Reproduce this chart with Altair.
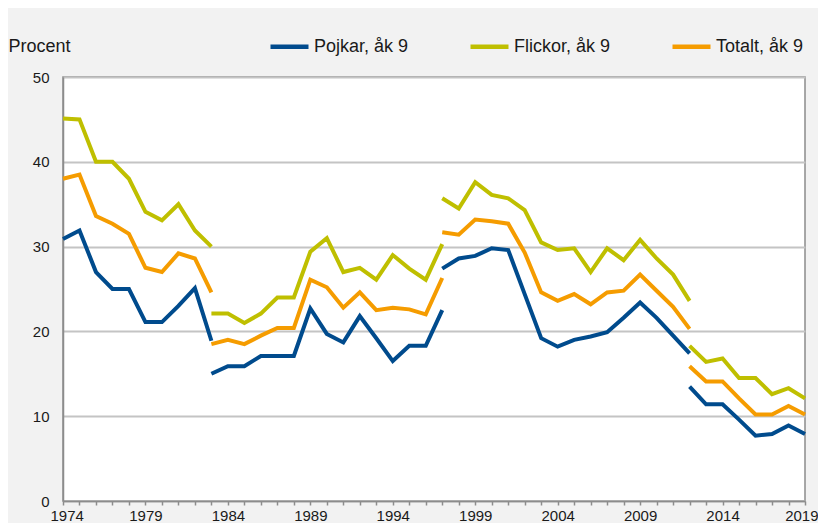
import altair as alt
import pandas as pd

series = ["Pojkar, åk 9", "Flickor, åk 9", "Totalt, åk 9"]
colors = ["#004b8d", "#bfbf00", "#f59c00"]

# Segment 1: 1974-1983
years_s1 = list(range(1974, 1984))
pojkar_s1 = [30.9, 31.9, 27.0, 25.0, 25.0, 21.1, 21.1, 23.0, 25.1, 18.9]
flickor_s1 = [45.1, 45.0, 40.0, 40.0, 38.0, 34.1, 33.1, 35.0, 31.9, 30.0]
totalt_s1 = [38.0, 38.5, 33.6, 32.7, 31.5, 27.5, 27.0, 29.2, 28.6, 24.6]

# Segment 2: 1983-1997
years_s2 = list(range(1983, 1998))
pojkar_s2 = [15.0, 15.9, 15.9, 17.1, 17.1, 17.1, 22.7, 19.7, 18.7, 21.8, 19.2, 16.5, 18.3, 18.3, 22.5]
flickor_s2 = [22.1, 22.1, 21.0, 22.1, 24.0, 24.0, 29.4, 31.0, 27.0, 27.5, 26.1, 29.0, 27.4, 26.1, 30.3]
totalt_s2 = [18.5, 19.0, 18.5, 19.5, 20.4, 20.4, 26.1, 25.2, 22.8, 24.6, 22.5, 22.8, 22.6, 22.0, 26.3]

# Segment 3: 1997-2012
years_s3 = list(range(1997, 2013))
pojkar_s3 = [27.4, 28.6, 28.9, 29.8, 29.6, 24.4, 19.2, 18.2, 19.0, 19.4, 19.9, 21.6, 23.4, 21.6, 19.5, 17.4]
flickor_s3 = [35.7, 34.5, 37.6, 36.1, 35.7, 34.3, 30.5, 29.6, 29.8, 27.0, 29.8, 28.4, 30.8, 28.6, 26.7, 23.6]
totalt_s3 = [31.7, 31.4, 33.2, 33.0, 32.7, 29.3, 24.6, 23.6, 24.4, 23.2, 24.6, 24.8, 26.7, 24.8, 22.9, 20.3]

# Segment 4: 2012-2019
years_s4 = list(range(2012, 2020))
pojkar_s4 = [13.5, 11.4, 11.4, 9.6, 7.7, 7.9, 8.9, 7.9]
flickor_s4 = [18.3, 16.4, 16.8, 14.5, 14.5, 12.6, 13.3, 12.1]
totalt_s4 = [15.9, 14.1, 14.1, 12.1, 10.2, 10.2, 11.2, 10.2]

all_years = list(range(1974, 2020))
y_ticks = [0, 10, 20, 30, 40, 50]

segments = [
    (years_s1, pojkar_s1, flickor_s1, totalt_s1),
    (years_s2, pojkar_s2, flickor_s2, totalt_s2),
    (years_s3, pojkar_s3, flickor_s3, totalt_s3),
    (years_s4, pojkar_s4, flickor_s4, totalt_s4),
]

rows = []
for si, (yrs, p, f, t) in enumerate(segments):
    for name, vals in zip(series, (p, f, t)):
        for yr, v in zip(yrs, vals):
            rows.append({"year": yr, "value": v, "series": name, "seg": f"{name}-{si}"})
df = pd.DataFrame(rows)

axis_gray = "#8c8c8c"
text_col = "#1a1a1a"

chart = alt.Chart(df).mark_line(strokeWidth=4).encode(
    x=alt.X(
        "year:Q",
        scale=alt.Scale(domain=[1974, 2019], nice=False, zero=False),
        axis=alt.Axis(
            values=all_years,
            format="d",
            labelExpr="(datum.value - 1974) % 5 == 0 ? datum.label : ''",
            labelOverlap=False,
            labelFlush=True,
            labelFlushOffset=13,
            title=None,
            grid=False,
            domainColor=axis_gray,
            domainWidth=1.5,
            tickColor=axis_gray,
            tickWidth=1.5,
            tickSize=4,
            labelFontSize=15,
            labelPadding=3,
            labelColor=text_col,
        ),
    ),
    y=alt.Y(
        "value:Q",
        scale=alt.Scale(domain=[0, 50], nice=False),
        axis=alt.Axis(
            values=y_ticks,
            title="Procent",
            titleAngle=0,
            titleX=-55,
            titleY=-31,
            titleAlign="left",
            titleBaseline="middle",
            titleFontSize=18,
            titleFontWeight="normal",
            titleColor=text_col,
            ticks=False,
            tickSize=0,
            domainColor=axis_gray,
            domainWidth=1.5,
            gridColor="#c4c4c4",
            gridWidth=2,
            labelPadding=14,
            labelFontSize=15,
            labelColor=text_col,
        ),
    ),
    color=alt.Color(
        "series:N",
        scale=alt.Scale(domain=series, range=colors),
        legend=alt.Legend(
            orient="none",
            legendX=205,
            legendY=-52,
            direction="horizontal",
            title=None,
            symbolType="stroke",
            symbolSize=1444,
            symbolStrokeWidth=4.5,
            labelFontSize=18,
            labelColor=text_col,
            labelOffset=3,
            columnPadding=52,
            padding=0,
            labelLimit=0,
        ),
    ),
    detail="seg:N",
    order="year:Q",
).properties(
    width=742,
    height=424,
    background="#f2f2f2",
    padding={"left": 55, "top": 69, "right": 13, "bottom": 22},
    autosize=alt.AutoSizeParams(type="none"),
).configure(
    font="Liberation Sans",
).configure_view(
    fill="white",
    stroke=axis_gray,
    strokeWidth=1.5,
)

chart.save("out.html", embed_options={"renderer": "svg", "actions": False})
